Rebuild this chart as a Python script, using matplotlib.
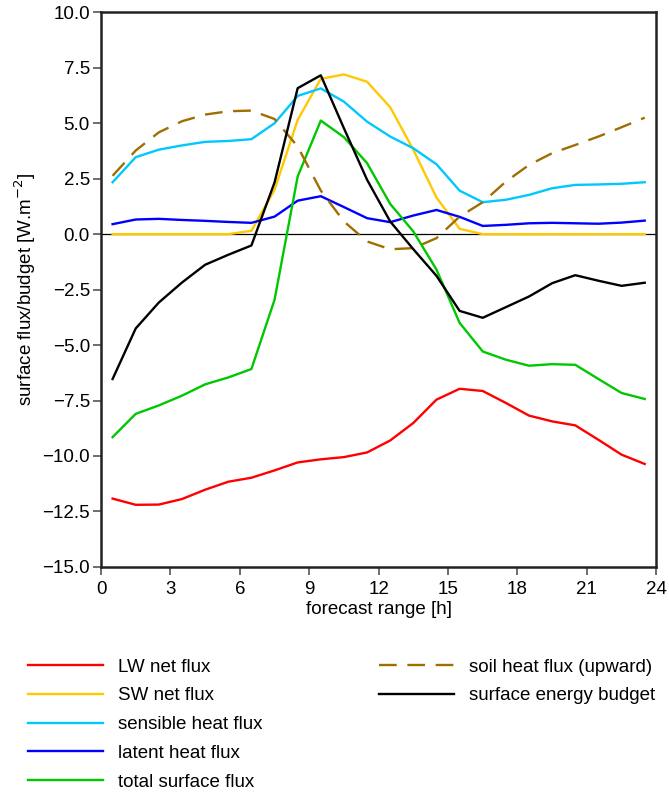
import matplotlib
matplotlib.use("Agg")
import matplotlib.pyplot as plt

plt.rcParams['font.family'] = ['Liberation Sans', 'DejaVu Sans']

hours = [h + 0.5 for h in range(24)]

lw_net = [-11.92, -12.20, -12.19, -11.94, -11.52, -11.16, -10.98, -10.65, -10.29, -10.15, -10.05, -9.84,
          -9.30, -8.51, -7.46, -6.97, -7.07, -7.61, -8.18, -8.44, -8.62, -9.27, -9.94, -10.36]
sw_net = [0.0, 0.0, 0.0, 0.0, 0.0, 0.0, 0.15, 2.0, 5.15, 7.0, 7.2, 6.87,
          5.72, 3.8, 1.65, 0.24, 0.0, 0.0, 0.0, 0.0, 0.0, 0.0, 0.0, 0.0]
sensible = [2.34, 3.47, 3.81, 4.0, 4.16, 4.2, 4.28, 5.0, 6.23, 6.57, 5.97, 5.07,
            4.4, 3.87, 3.15, 1.96, 1.44, 1.55, 1.77, 2.07, 2.22, 2.24, 2.27, 2.34]
latent = [0.45, 0.66, 0.69, 0.64, 0.6, 0.55, 0.51, 0.79, 1.51, 1.71, 1.22, 0.72,
          0.54, 0.84, 1.09, 0.78, 0.37, 0.42, 0.49, 0.51, 0.49, 0.47, 0.52, 0.61]
total = [-9.15, -8.1, -7.72, -7.28, -6.77, -6.46, -6.08, -2.96, 2.6, 5.12, 4.37, 3.2,
         1.36, 0.12, -1.6, -4.0, -5.29, -5.66, -5.93, -5.86, -5.89, -6.53, -7.16, -7.43]
soil = [2.63, 3.77, 4.59, 5.09, 5.39, 5.54, 5.57, 5.19, 3.95, 1.96, 0.57, -0.33,
        -0.68, -0.63, -0.18, 0.79, 1.44, 2.37, 3.12, 3.65, 4.02, 4.4, 4.82, 5.25]
budget = [-6.53, -4.25, -3.08, -2.18, -1.38, -0.93, -0.51, 2.33, 6.58, 7.16, 4.77, 2.45,
          0.57, -0.68, -1.88, -3.46, -3.77, -3.29, -2.81, -2.21, -1.85, -2.1, -2.33, -2.19]

fs = 13.5

fig = plt.figure(figsize=(6.69, 7.94), dpi=100)
ax = fig.add_axes([0.151, 0.286, 0.830, 0.6985])

lw = 1.7
ax.axhline(0, color='black', linewidth=0.9, zorder=1)
h1, = ax.plot(hours, lw_net, color='#ff0000', lw=lw, label='LW net flux')
h2, = ax.plot(hours, sw_net, color='#ffc800', lw=lw, label='SW net flux')
h3, = ax.plot(hours, sensible, color='#00c8ff', lw=lw, label='sensible heat flux')
h4, = ax.plot(hours, latent, color='#0000ff', lw=lw, label='latent heat flux')
h5, = ax.plot(hours, total, color='#00c800', lw=lw, label='total surface flux')
h6, = ax.plot(hours, soil, color='#a06e00', lw=lw, ls=(0, (7.5, 4.5)), label='soil heat flux (upward)')
h7, = ax.plot(hours, budget, color='black', lw=lw, label='surface energy budget')

ax.set_xlim(0, 24)
ax.set_ylim(-15, 10)
ax.set_xticks(range(0, 25, 3))
ax.set_yticks([-15, -12.5, -10, -7.5, -5, -2.5, 0, 2.5, 5, 7.5, 10])
ax.set_yticklabels(['\u221215.0', '\u221212.5', '\u221210.0', '\u22127.5', '\u22125.0', '\u22122.5',
                    '0.0', '2.5', '5.0', '7.5', '10.0'])
ax.tick_params(direction='out', length=6, width=1.2, color='#555555', labelsize=fs, pad=2)
ax.tick_params(axis='x', pad=4)
for sp in ax.spines.values():
    sp.set_linewidth(1.8)
    sp.set_color('#222222')

ax.set_xlabel('forecast range [h]', fontsize=fs, labelpad=2)
ax.set_ylabel('surface flux/budget [W.m$^{-2}$]', fontsize=fs, labelpad=3)

leg_kw = dict(frameon=False, fontsize=fs, handlelength=4.0, handletextpad=0.8,
              labelspacing=0.62, borderaxespad=0)
fig.legend(handles=[h1, h2, h3, h4, h5], loc='upper left',
           bbox_to_anchor=(0.031, 0.180), **leg_kw)
fig.legend(handles=[h6, h7], loc='upper left',
           bbox_to_anchor=(0.556, 0.180), **leg_kw)

fig.savefig('out.png', dpi=100)
